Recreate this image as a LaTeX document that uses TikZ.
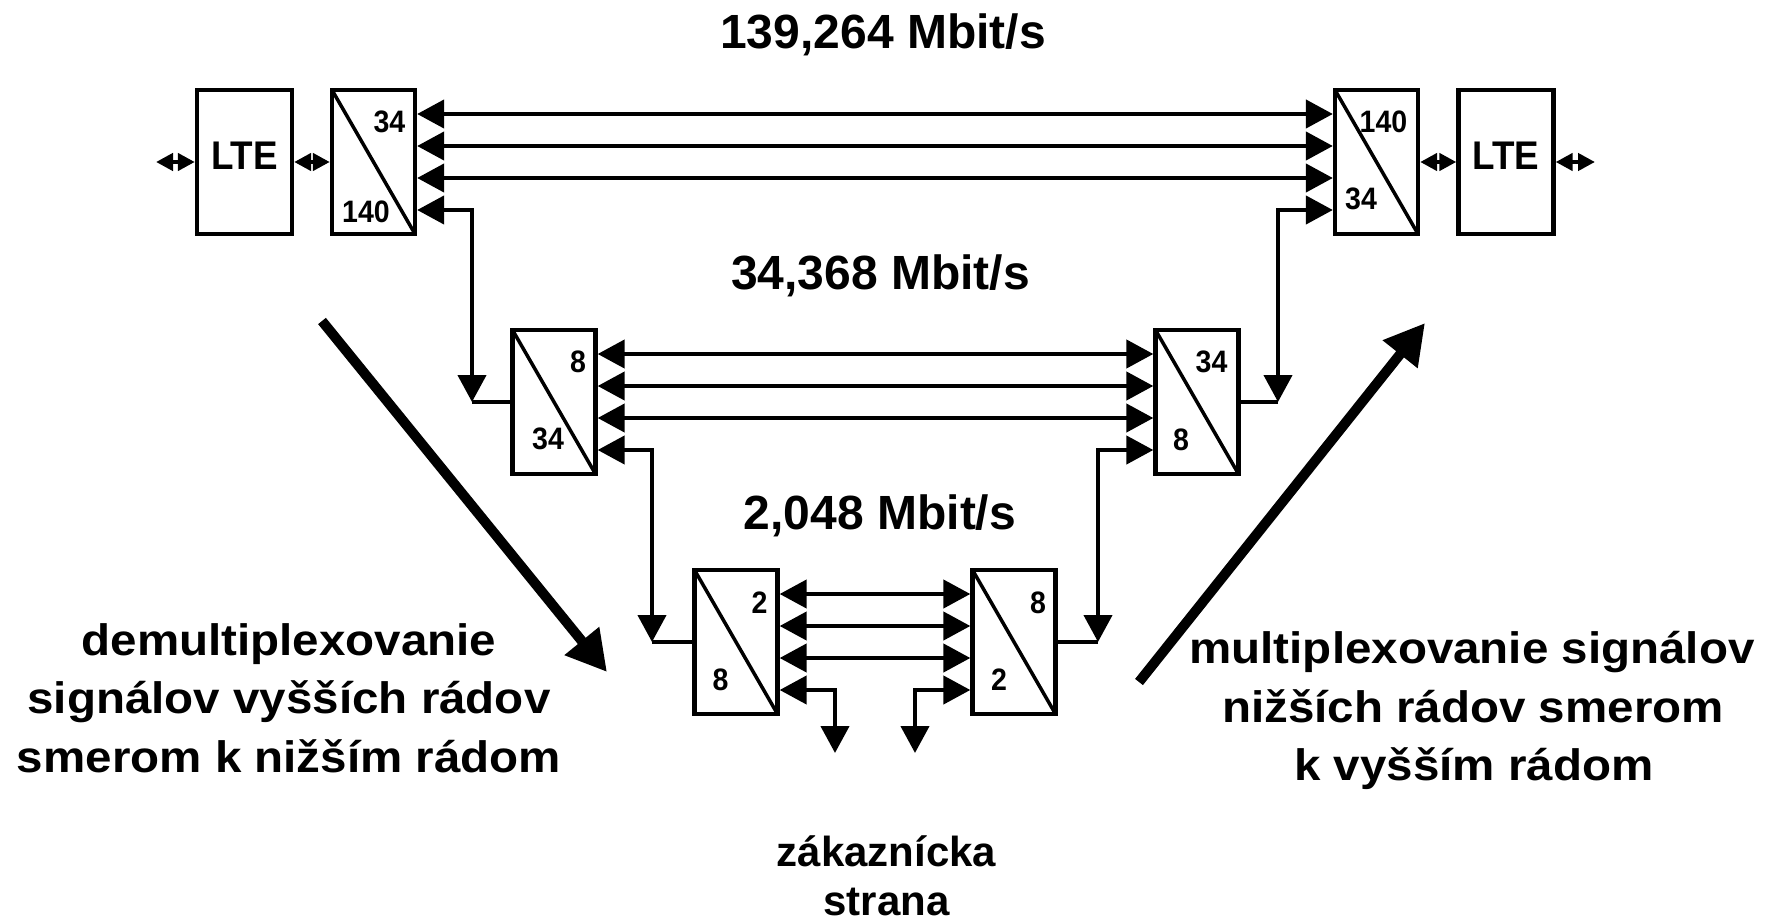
\documentclass[tikz,border=0pt]{standalone}
\usepackage{fontspec}
\setmainfont{Liberation Sans}
\newfontfamily\narrowsans{Liberation Sans}[FakeStretch=0.92]
\newfontfamily\widesans{Liberation Sans}[FakeStretch=1.08]
\usetikzlibrary{arrows.meta}
\begin{document}
\begin{tikzpicture}[x=1pt,y=-1pt,
  mux/.style={draw, line width=4.3pt, minimum width=83pt, minimum height=144pt, inner sep=0pt,
    path picture={\draw[line width=3.5pt] (path picture bounding box.north west) -- (path picture bounding box.south east);}},
  ltebox/.style={draw, line width=4.3pt, minimum width=95pt, minimum height=144pt, inner sep=0pt},
  lbl/.style={font=\narrowsans\bfseries\fontsize{31}{31}\selectfont, inner sep=0pt},
  ltetxt/.style={font=\narrowsans\bfseries\fontsize{40}{40}\selectfont, inner sep=0pt},
  rate/.style={font=\bfseries\fontsize{48}{48}\selectfont, inner sep=0pt, anchor=base},
  sidetxt/.style={font=\widesans\bfseries\fontsize{44}{44}\selectfont, inner sep=0pt, anchor=base},
  bt/.style={font=\bfseries\fontsize{42}{42}\selectfont, inner sep=0pt, anchor=base},
  sarrow/.style={line width=4.3pt, {Triangle[length=17pt,width=17pt]}-{Triangle[length=17pt,width=17pt]}},
  conn/.style={line width=4.3pt, {Triangle[length=27pt,width=28pt]}-{Triangle[length=27pt,width=28pt]}},
  plain/.style={line width=4.3pt},
  bigarrow/.style={line width=10pt, -{Triangle[length=40pt,width=42pt]}}
]
\fill[white] (0,0) rectangle (1765,923);
\useasboundingbox (0,0) rectangle (1765,923);

% boxes
\node[ltebox] (l1) at (244.5,162) {};
\node[mux] (m1) at (373.5,162) {};
\node[mux] (m2) at (1376.5,162) {};
\node[ltebox] (l2) at (1506,162) {};
\node[mux] (m3) at (554,402) {};
\node[mux] (m4) at (1197,402) {};
\node[mux] (m5) at (736,642) {};
\node[mux] (m6) at (1014,642) {};

% box texts
\node[ltetxt] (t1) at ([yshift=6.5pt]l1.center) {LTE};
\node[ltetxt] (t2) at ([yshift=6.5pt]l2.center) {LTE};
\node[lbl] (m1a) at ([shift={(16,-40)}]m1.center) {34};
\node[lbl] (m1b) at ([shift={(-7.5,50)}]m1.center) {140};
\node[lbl] (m2a) at ([shift={(7,-40)}]m2.center) {140};
\node[lbl] (m2b) at ([shift={(-15.5,37)}]m2.center) {34};
\node[lbl] (m3a) at ([shift={(24,-40)}]m3.center) {8};
\node[lbl] (m3b) at ([shift={(-6,37)}]m3.center) {34};
\node[lbl] (m4a) at ([shift={(14.5,-40)}]m4.center) {34};
\node[lbl] (m4b) at ([shift={(-16,38)}]m4.center) {8};
\node[lbl] (m5a) at ([shift={(23.5,-39.5)}]m5.center) {2};
\node[lbl] (m5b) at ([shift={(-15.5,38)}]m5.center) {8};
\node[lbl] (m6a) at ([shift={(24,-39.5)}]m6.center) {8};
\node[lbl] (m6b) at ([shift={(-15,38)}]m6.center) {2};

% coordinates
\coordinate (lin) at (156,162);
\coordinate (rout) at (1595,162);
\coordinate (j1) at (472,402);
\coordinate (j2) at (1278,402);
\coordinate (j3) at (652,642);
\coordinate (j4) at (1098,642);
\coordinate (d1) at (835,753);
\coordinate (d2) at (915,753);

% short double arrows
\draw[sarrow] (lin) -- (l1.west);
\draw[sarrow] (l1.east) -- (m1.west);
\draw[sarrow] (m2.east) -- (l2.west);
\draw[sarrow] (l2.east) -- (rout);

% parallel connectors
\foreach \s in {48,16,-16} {
  \draw[conn] ([yshift=\s pt]m1.east) -- ([yshift=\s pt]m2.west);
  \draw[conn] ([yshift=\s pt]m3.east) -- ([yshift=\s pt]m4.west);
  \draw[conn] ([yshift=\s pt]m5.east) -- ([yshift=\s pt]m6.west);
}

% fourth channels
\draw[conn] ([yshift=-48pt]m1.east) -| (j1);
\draw[plain] (j1) -- (m3.west);
\draw[conn] (j2) |- ([yshift=-48pt]m2.west);
\draw[plain] (j2) -- (m4.east);
\draw[conn] ([yshift=-48pt]m3.east) -| (j3);
\draw[plain] (j3) -- (m5.west);
\draw[conn] (j4) |- ([yshift=-48pt]m4.west);
\draw[plain] (j4) -- (m6.east);
\draw[conn] ([yshift=-48pt]m5.east) -| (d1);
\draw[conn] (d2) |- ([yshift=-48pt]m6.west);

% big direction arrows
\coordinate (ba1) at (322,321);
\coordinate (ba2) at (607,672);
\draw[bigarrow] (ba1) -- (ba2);
\coordinate (bb1) at (1139,682);
\coordinate (bb2) at (1425,323);
\draw[bigarrow] (bb1) -- (bb2);

% texts
\node[rate] (r1) at (883,49) {139,264 Mbit/s};
\node[rate] (r2) at (880.5,289) {34,368 Mbit/s};
\node[rate] (r3) at (880,529) {2,048 Mbit/s};

\node[sidetxt] (a1) at (289,655) {demultiplexovanie};
\node[sidetxt] (a2) at (289,713) {signálov vyšších rádov};
\node[sidetxt] (a3) at (289,772) {smerom k nižším rádom};

\node[sidetxt] (b1) at (1472,663) {multiplexovanie signálov};
\node[sidetxt] (b2) at (1473,722) {nižších rádov smerom};
\node[sidetxt] (b3) at (1474,780) {k vyšším rádom};

\node[bt] (c1) at (886.5,866) {zákaznícka};
\node[bt] (c2) at (886.5,915) {strana};
\end{tikzpicture}
\end{document}
